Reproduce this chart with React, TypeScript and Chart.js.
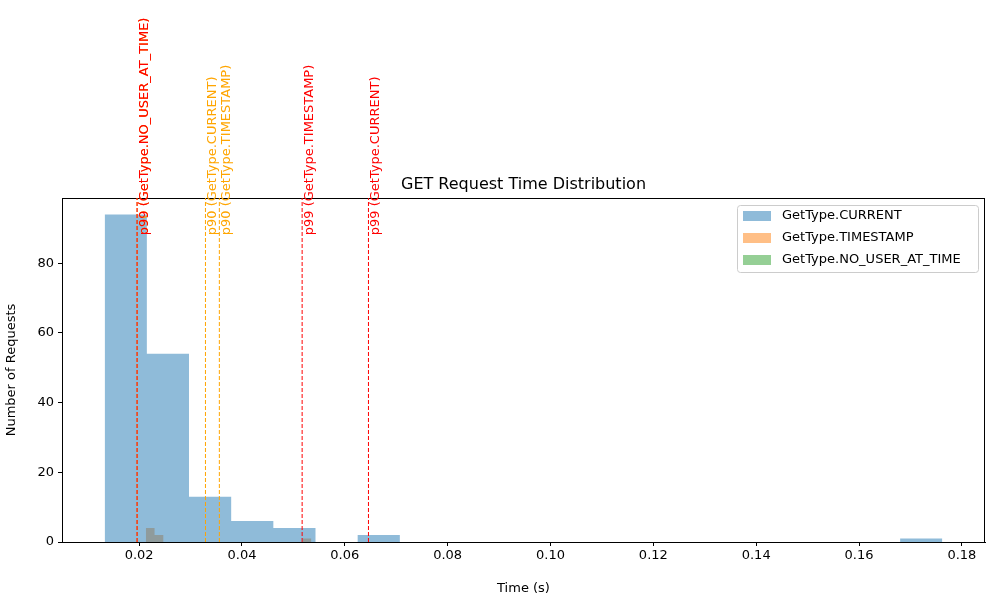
import { useEffect, useRef } from 'react';
import { Chart, registerables } from 'chart.js';

Chart.register(...registerables);

// left bin edges and counts
const currentEdges = [0.0133, 0.0215, 0.0297, 0.0379, 0.0461, 0.0543, 0.0625, 0.0707, 0.0789, 0.0871, 0.0953, 0.1035, 0.1117, 0.1199, 0.1281, 0.1363, 0.1445, 0.1527, 0.1609, 0.1680, 0.1762];
const currentCounts = [94, 54, 13, 6, 4, 0, 2, 0, 0, 0, 0, 0, 0, 0, 0, 0, 0, 0, 0, 1];
const timestampEdges = [0.0213, 0.0230, 0.0247, 0.0264, 0.0281, 0.0298, 0.0315, 0.0332, 0.0349, 0.0366, 0.0383, 0.0400, 0.0417, 0.0434, 0.0451, 0.0468, 0.0485, 0.0502, 0.0518, 0.0535];
const timestampCounts = [4, 2, 0, 0, 0, 0, 0, 0, 0, 0, 0, 0, 0, 0, 0, 0, 0, 0, 1];
const noUserEdges: number[] = [];
const noUserCounts: number[] = [];

const seriesNames = ['GetType.CURRENT', 'GetType.TIMESTAMP', 'GetType.NO_USER_AT_TIME'];
const seriesColors = ['rgba(31,119,180,0.5)', 'rgba(255,127,14,0.5)', 'rgba(44,160,44,0.5)'];

const lineValues = [0.0196, 0.0196, 0.0329, 0.0356, 0.0517, 0.0646];
const lineLabels = ['p90 (GetType.NO_USER_AT_TIME)', 'p99 (GetType.NO_USER_AT_TIME)', 'p90 (GetType.CURRENT)', 'p90 (GetType.TIMESTAMP)', 'p99 (GetType.TIMESTAMP)', 'p99 (GetType.CURRENT)'];
const lineColors = ['orange', 'red', 'orange', 'orange', 'red', 'red'];

const xTicks = [0.02, 0.04, 0.06, 0.08, 0.1, 0.12, 0.14, 0.16, 0.18];
const yTicks = [0, 20, 40, 60, 80];

const FONT = '"DejaVu Sans", sans-serif';

function histPoints(edges: number[], counts: number[]) {
  if (!edges.length) return [];
  const pts = [{ x: edges[0], y: 0 }];
  counts.forEach((c, i) => pts.push({ x: edges[i], y: c }));
  pts.push({ x: edges[counts.length], y: 0 });
  return pts;
}

const overlay = {
  id: 'overlay',
  afterDatasetsDraw(chart: any) {
    const { ctx, chartArea: a, scales } = chart;
    ctx.save();
    // frame
    ctx.strokeStyle = '#000';
    ctx.lineWidth = 1;
    ctx.strokeRect(a.left + 0.5, a.top + 0.5, a.right - a.left - 1, a.bottom - a.top);
    // vertical lines + labels
    lineValues.forEach((v, i) => {
      const x = scales.x.getPixelForValue(v);
      ctx.strokeStyle = lineColors[i];
      ctx.setLineDash([4, 2]);
      ctx.beginPath();
      ctx.moveTo(x, a.bottom);
      ctx.lineTo(x, a.top);
      ctx.stroke();
      ctx.setLineDash([]);
      ctx.save();
      ctx.translate(x + 1, scales.y.getPixelForValue(88));
      ctx.rotate(-Math.PI / 2);
      ctx.fillStyle = lineColors[i];
      ctx.font = `13px ${FONT}`;
      ctx.textAlign = 'left';
      ctx.textBaseline = 'top';
      ctx.fillText(lineLabels[i], 0, 0);
      ctx.restore();
    });
    // title
    ctx.fillStyle = '#000';
    ctx.font = `16px ${FONT}`;
    ctx.textAlign = 'center';
    ctx.textBaseline = 'bottom';
    ctx.fillText('GET Request Time Distribution', (a.left + a.right) / 2, a.top - 5);
    // legend
    const lx = a.right - 248, ly = a.top + 7;
    ctx.fillStyle = 'rgba(255,255,255,0.8)';
    ctx.strokeStyle = '#ccc';
    ctx.beginPath();
    ctx.roundRect(lx + 0.5, ly + 0.5, 241, 67, 3);
    ctx.fill();
    ctx.stroke();
    ctx.font = `13px ${FONT}`;
    ctx.textAlign = 'left';
    ctx.textBaseline = 'middle';
    seriesNames.forEach((n, i) => {
      const y = ly + 11 + i * 22;
      ctx.fillStyle = seriesColors[i];
      ctx.fillRect(lx + 6, y - 5, 28, 10);
      ctx.fillStyle = '#000';
      ctx.fillText(n, lx + 45, y);
    });
    ctx.restore();
  },
};

export default function App() {
  const canvasRef = useRef<HTMLCanvasElement>(null);
  const chartRef = useRef<Chart | null>(null);

  useEffect(() => {
    if (!canvasRef.current) return;
    if (chartRef.current) chartRef.current.destroy();

    const sets = [
      histPoints(currentEdges, currentCounts),
      histPoints(timestampEdges, timestampCounts),
      histPoints(noUserEdges, noUserCounts),
    ];

    chartRef.current = new Chart(canvasRef.current, {
      type: 'line',
      data: {
        datasets: sets.map((d, i) => ({
          label: seriesNames[i],
          data: d,
          stepped: true,
          fill: 'origin',
          backgroundColor: seriesColors[i],
          borderWidth: 0,
          pointRadius: 0,
        })),
      },
      options: {
        animation: false,
        responsive: false,
        layout: { padding: { top: 198, right: 15, left: 0, bottom: 0 } },
        plugins: { legend: { display: false }, tooltip: { enabled: false } },
        scales: {
          x: {
            type: 'linear',
            min: 0.005,
            max: 0.1845,
            afterFit: (s: any) => { s.height = 58; },
            afterBuildTicks: (s: any) => { s.ticks = xTicks.map(v => ({ value: v })); },
            ticks: { color: '#000', font: { family: FONT, size: 13 }, callback: (v: any) => Number(v).toFixed(2), maxRotation: 0, padding: 2 },
            grid: { drawOnChartArea: false, color: '#000', tickLength: 4 },
            border: { color: '#000' },
            title: { display: true, text: 'Time (s)', color: '#000', font: { family: FONT, size: 13 }, padding: { top: 4 } },
          },
          y: {
            min: 0,
            max: 98.7,
            afterFit: (s: any) => { s.width = 62; },
            afterBuildTicks: (s: any) => { s.ticks = yTicks.map(v => ({ value: v })); },
            ticks: { color: '#000', font: { family: FONT, size: 13 }, padding: 4 },
            grid: { drawOnChartArea: false, color: '#000', tickLength: 4 },
            border: { color: '#000' },
            title: { display: true, text: 'Number of Requests', color: '#000', font: { family: FONT, size: 13 }, padding: { bottom: 4 } },
          },
        },
      },
      plugins: [overlay],
    } as any);

    return () => {
      if (chartRef.current) chartRef.current.destroy();
      chartRef.current = null;
    };
  }, []);

  return (
    <div style={{ position: 'fixed', left: 0, top: 0, width: 1000, height: 600, background: '#fff' }}>
      <canvas ref={canvasRef} width={1000} height={600} style={{ width: 1000, height: 600 }}></canvas>
    </div>
  );
}
